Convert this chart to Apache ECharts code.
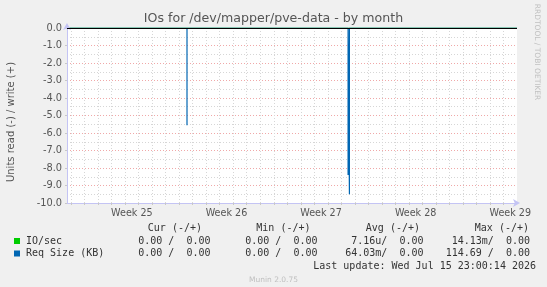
<!DOCTYPE html>
<html>
<head>
<meta charset="utf-8">
<script src="https://cdn.jsdelivr.net/npm/echarts@6/dist/echarts.min.js"></script>
<style>
  html, body { margin: 0; padding: 0; background: #f0f0f0; }
  #chart { width: 547px; height: 287px; }
</style>
</head>
<body>
<div id="chart"></div>
<script>
// x values are days counted from Monday of week 25
const dayTicks = [-1, 0, 1, 2, 3, 4, 5, 6, 7, 8, 9, 10, 11, 12, 13, 14, 15, 16, 17, 18, 19, 20, 21, 22, 23, 24, 25, 26, 27, 28, 29, 30, 31]
const weekStarts = [0, 7, 14, 21, 28]
const weekLabelPos = [3.5, 10.5, 17.5, 24.5, 31.5]
const weekLabels = ['Week 25', 'Week 26', 'Week 27', 'Week 28', 'Week 29']

// read side is drawn negative
const ioSecRead = [[-1.3, 0], [32, 0]]
const reqSizeRead = [
  [-1.3, 0],
  [7.58, 0], [7.58, -5.55], [7.58, 0],
  [19.5, 0], [19.5, -8.4], [19.5, 0],
  [19.6, 0], [19.6, -9.5], [19.6, 0],
  [32, 0]
]

const legendNames = ['IO/sec', 'Req Size (KB)']
const legendColors = ['#00cc00', '#0066b3']
const colHeaders = ['Cur (-/+)', 'Min (-/+)', 'Avg (-/+)', 'Max (-/+)']
const curVals = ['0.00 /  0.00', '0.00 /  0.00']
const minVals = ['0.00 /  0.00', '0.00 /  0.00']
const avgVals = ['7.16u/  0.00', '64.03m/  0.00']
const maxVals = ['14.13m/  0.00', '114.69 /  0.00']
const lastUpdate = 'Last update: Wed Jul 15 23:00:14 2026'

const mono = '10px "DejaVu Sans Mono"'
const headerRight = [202, 310.5, 420, 529]
const valueRight = [210.5, 317.5, 423.5, 530]
const rowY = [241, 253.5]

const graphics = [
  {
    type: 'text', x: 273.5, y: 19,
    style: { text: 'IOs for /dev/mapper/pve-data - by month', font: '12.6px "DejaVu Sans"', fill: '#555', align: 'center', verticalAlign: 'middle' }
  },
  {
    type: 'text', x: 11, y: 122, rotation: Math.PI / 2,
    style: { text: 'Units read (-) / write (+)', font: '10px "DejaVu Sans"', fill: '#555', align: 'center', verticalAlign: 'middle' }
  },
  {
    type: 'text', x: 537, y: 52, rotation: -Math.PI / 2,
    style: { text: 'RRDTOOL / TOBI OETIKER', font: '7.5px "DejaVu Sans"', fill: '#c0c0c0', align: 'center', verticalAlign: 'middle' }
  },
  {
    type: 'text', x: 273.5, y: 280,
    style: { text: 'Munin 2.0.75', font: '7.5px "DejaVu Sans"', fill: '#c0c0c0', align: 'center', verticalAlign: 'middle' }
  },
  {
    type: 'text', x: 536, y: 266.5,
    style: { text: lastUpdate, font: mono, fill: '#333', align: 'right', verticalAlign: 'middle' }
  }
]

colHeaders.forEach((h, i) => {
  graphics.push({
    type: 'text', x: headerRight[i], y: 228.5,
    style: { text: h, font: mono, fill: '#333', align: 'right', verticalAlign: 'middle' }
  })
})

legendNames.forEach((name, r) => {
  graphics.push({
    type: 'rect',
    shape: { x: 14, y: rowY[r] - 3, width: 6, height: 6 },
    style: { fill: legendColors[r] }
  })
  graphics.push({
    type: 'text', x: 26, y: rowY[r],
    style: { text: name, font: mono, fill: '#333', align: 'left', verticalAlign: 'middle' }
  })
  const cols = [curVals[r], minVals[r], avgVals[r], maxVals[r]]
  cols.forEach((v, i) => {
    graphics.push({
      type: 'text', x: valueRight[i], y: rowY[r],
      style: { text: v, font: mono, fill: '#333', align: 'right', verticalAlign: 'middle' }
    })
  })
})

const chart = echarts.init(document.getElementById('chart'))
chart.setOption({
  animation: false,
  backgroundColor: '#f0f0f0',
  textStyle: { fontFamily: 'DejaVu Sans' },
  grid: {
    left: 67,
    right: 30,
    top: 28,
    bottom: 84,
    show: true,
    backgroundColor: '#ffffff',
    borderWidth: 0
  },
  xAxis: [
    {
      type: 'value',
      min: -1.3,
      max: 32,
      position: 'bottom',
      z: 3,
      axisLine: {
        show: true,
        onZero: false,
        lineStyle: { color: '#c4c4f4', width: 1 },
        symbol: ['none', 'arrow'],
        symbolSize: [6, 7],
        symbolOffset: [0, 3]
      },
      axisTick: {
        show: true,
        customValues: dayTicks,
        length: 2,
        lineStyle: { color: '#c8c8c8' }
      },
      axisLabel: {
        customValues: weekLabelPos,
        formatter: v => weekLabels[weekLabelPos.indexOf(v)],
        color: '#555',
        fontSize: 9.6,
        margin: 5
      },
      splitLine: {
        show: true,
        lineStyle: { color: '#d6d6d6', type: [1, 2], width: 1 }
      }
    },
    {
      type: 'value',
      min: -1.3,
      max: 32,
      position: 'bottom',
      axisLine: { show: false, onZero: false },
      axisTick: {
        show: true,
        customValues: weekStarts,
        length: 2,
        lineStyle: { color: '#f08080' }
      },
      axisLabel: { show: false },
      splitLine: {
        show: true,
        lineStyle: { color: '#f0a8a8', type: [1, 2], width: 1 }
      }
    }
  ],
  yAxis: {
    type: 'value',
    min: -10,
    max: 0,
    interval: 1,
    position: 'left',
    z: 3,
    axisLine: {
      show: true,
      onZero: false,
      lineStyle: { color: '#c4c4f4', width: 1 },
      symbol: ['none', 'arrow'],
      symbolSize: [6, 7],
      symbolOffset: [0, 5]
    },
    axisTick: { show: true, length: 2, lineStyle: { color: '#c8c8c8' } },
    minorTick: { show: true, splitNumber: 2, length: 0 },
    axisLabel: {
      formatter: v => v.toFixed(1),
      color: '#555',
      fontSize: 9.8,
      margin: 5
    },
    splitLine: {
      show: true,
      lineStyle: { color: '#f0a8a8', type: [1, 2], width: 1 }
    },
    minorSplitLine: {
      show: true,
      lineStyle: { color: '#d6d6d6', type: [1, 2], width: 1 }
    }
  },
  series: [
    {
      name: 'IO/sec',
      type: 'line',
      xAxisIndex: 0,
      data: ioSecRead,
      showSymbol: false,
      lineStyle: { color: legendColors[0], width: 1 }
    },
    {
      name: 'Req Size (KB)',
      type: 'line',
      xAxisIndex: 0,
      data: reqSizeRead,
      showSymbol: false,
      lineStyle: { color: legendColors[1], width: 1.2 },
      markLine: {
        silent: true,
        symbol: 'none',
        label: { show: false },
        lineStyle: { color: '#000', width: 1.2, type: 'solid' },
        data: [{ yAxis: 0 }]
      }
    }
  ],
  graphic: graphics
})
</script>
</body>
</html>
